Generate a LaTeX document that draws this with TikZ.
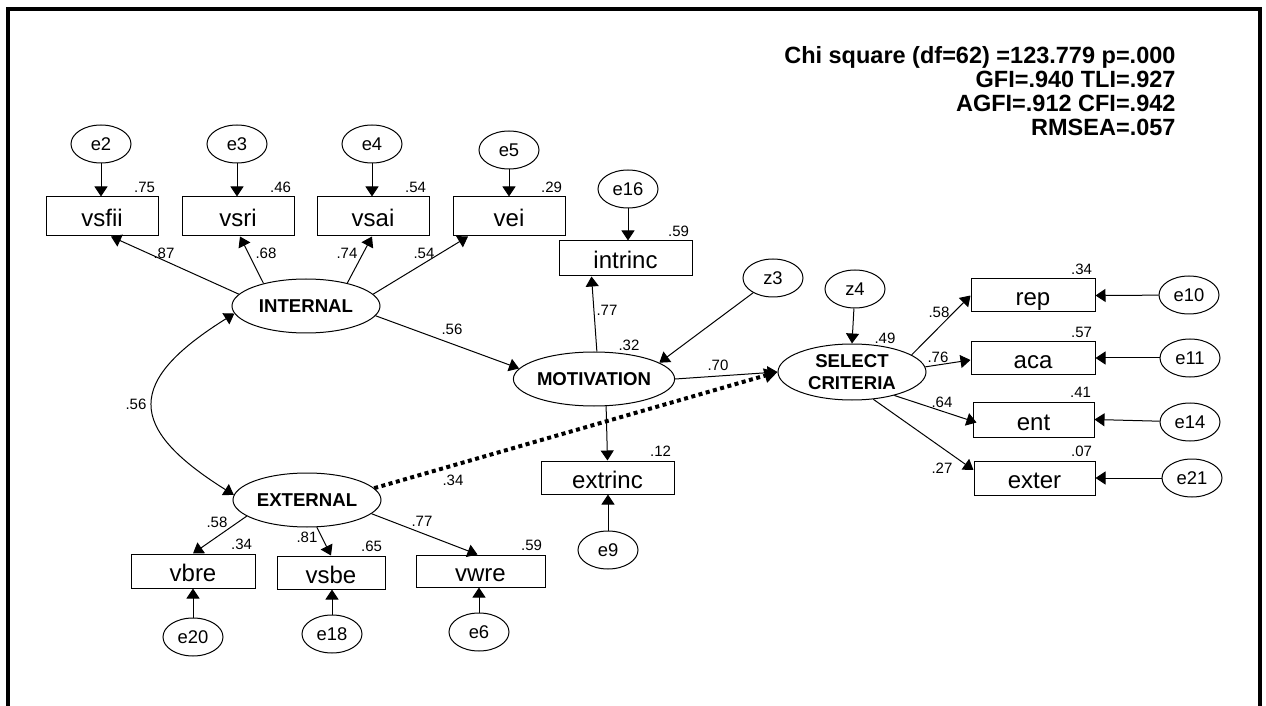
\documentclass[tikz,border=0pt]{standalone}
\usepackage{fontspec}
\setmainfont{Liberation Sans}
\usetikzlibrary{positioning, shapes.geometric, arrows.meta}
\tikzset{
	obsbox/.style={draw, rectangle, inner sep=0pt, minimum width=56pt, minimum height=19.5pt,
		text height=10.5pt, text depth=0pt, font=\fontsize{12}{14}\selectfont}
}
\tikzset{
	latent/.style={draw, ellipse, inner sep=0pt, minimum width=74pt, minimum height=27pt,
		align=center, font=\fontsize{9.3}{11}\selectfont\bfseries}
}
\tikzset{
	errnode/.style={draw, ellipse, inner sep=0pt, minimum width=30pt, minimum height=19pt,
		font=\fontsize{9.2}{11}\selectfont}
}
\tikzset{
	numtext/.style={inner sep=0pt, font=\fontsize{7.5}{9}\selectfont},
	fittext/.style={inner sep=0pt, font=\fontsize{11.75}{12}\selectfont\bfseries},
	arr/.style={-{Triangle[length=5pt,width=6.5pt]}},
	covarr/.style={{Triangle[length=5pt,width=6.5pt]}-{Triangle[length=5pt,width=6.5pt]}},
	dotarr/.style={line width=2pt, dash pattern=on 2pt off 1.75pt, -{Triangle[length=6.5pt,width=7pt]}}
}

\begin{document}
\begin{tikzpicture}[x=0.5pt, y=-0.5pt, line width=0.5pt]
      \useasboundingbox (0,0) rectangle (1266,706);
      % open frame round the model
      \draw[line width=2pt] (8,706) -- (8,9) -- (1260,9) -- (1260,706);
      \node[fittext, anchor=north east, align=right] (fitidx) at (1176,46)
        {Chi square (df=62) =123.779 p=.000\\GFI=.940 TLI=.927\\AGFI=.912 CFI=.942\\RMSEA=.057};

      % latent variables
      \node[latent] (INT) at (306,306) {INTERNAL};
      \node[latent] (EXT) at (307,500) {EXTERNAL};
      \node[latent, minimum width=75pt] (MOT) at (594,379) {MOTIVATION};
      \node[latent, minimum height=28pt] (SEL) at (852,372) {SELECT\\CRITERIA};

      % indicators of INTERNAL
      \node[obsbox] (vsfii) at (102,216.5) {vsfii};
      \node[obsbox] (vsri) at (238,216.5) {vsri};
      \node[obsbox] (vsai) at (373,216.5) {vsai};
      \node[obsbox] (vei) at (509,216.5) {vei};
      \node[errnode] (e2) at (101,144) {e2};
      \node[errnode] (e3) at (237,144) {e3};
      \node[errnode] (e4) at (372,144) {e4};
      \node[errnode] (e5) at (509,150) {e5};

      % indicators of EXTERNAL
      \node[obsbox, minimum width=62pt, minimum height=17pt] (vbre) at (193,571) {vbre};
      \node[obsbox, minimum width=54pt, minimum height=16.5pt] (vsbe) at (331,572.5) {vsbe};
      \node[obsbox, minimum width=64.5pt, minimum height=16pt] (vwre) at (480.5,571) {vwre};
      \node[errnode] (e20) at (193,637) {e20};
      \node[errnode] (e18) at (332,634) {e18};
      \node[errnode] (e6) at (479,632) {e6};

      % indicators of MOTIVATION
      \node[obsbox, minimum width=66.5pt, minimum height=17.5pt] (intrinc) at (625.5,258.5) {intrinc};
      \node[obsbox, minimum width=66.5pt, minimum height=16.5pt] (extrinc) at (607.5,477.5) {extrinc};
      \node[errnode] (e16) at (628,189) {e16};
      \node[errnode] (e9) at (608,550) {e9};
      \node[errnode] (z3) at (773,278) {z3};
      \node[errnode] (z4) at (855,289) {z4};

      % indicators of SELECT CRITERIA
      \node[obsbox, minimum width=62pt, minimum height=16.5pt] (rep) at (1033,295.5) {rep};
      \node[obsbox, minimum width=62pt, minimum height=16.5pt] (aca) at (1033,358) {aca};
      \node[obsbox, minimum width=60.5pt, minimum height=17.5pt] (ent) at (1033.5,419.5) {ent};
      \node[obsbox, minimum width=60.5pt, minimum height=17pt] (exter) at (1034.5,478) {exter};
      \node[errnode] (e10) at (1189,295) {e10};
      \node[errnode] (e11) at (1190,358) {e11};
      \node[errnode] (e14) at (1190,422) {e14};
      \node[errnode] (e21) at (1192,478) {e21};

      % paths
      \draw[arr] (e2) -- (e2 |- vsfii.north);
      \draw[arr] (e3) -- (e3 |- vsri.north);
      \draw[arr] (e4) -- (e4 |- vsai.north);
      \draw[arr] (e5) -- (e5 |- vei.north);
      \draw[arr] (INT.170) -- ([xshift=4.5pt]vsfii.south);
      \draw[arr] (INT.152) -- ([xshift=1pt]vsri.south);
      \draw[arr] (INT.29) -- ([xshift=-0.5pt]vsai.south);
      \draw[arr] (INT.10) -- ([xshift=-20.5pt]vei.south);
      \draw[covarr] (INT.186) .. controls (126.5,381) and (125.5,427) .. (EXT.176);
      \draw[arr] (INT.-8) -- (MOT.172);
      \draw[arr] (EXT.-165) -- (vbre.north);
      \draw[arr] (EXT.-70) -- (vsbe.north);
      \draw[arr] (EXT.-12) -- ([xshift=-1.5pt]vwre.north);
      \draw[arr] (e20) -- (e20 |- vbre.south);
      \draw[arr] (e18) -- (e18 |- vsbe.south);
      \draw[arr] (e6) -- (e6 |- vwre.south);
      \draw[arr] (MOT.84) -- ([xshift=-17pt]intrinc.south);
      \draw[arr] (MOT.-66) -- (extrinc.north);
      \draw[arr] (e16) -- (e16 |- intrinc.north);
      \draw[arr] (e9) -- (e9 |- extrinc.south);
      \draw[arr] (z3) -- (MOT.14);
      \draw[arr] (z4) -- (SEL.north);
      \draw[arr] (MOT.east) -- (SEL.west);
      \draw[dotarr] (EXT.10) -- (SEL.west);
      \draw[arr] (SEL.16) -- (rep.west);
      \draw[arr] (SEL.4) -- ([yshift=-1pt]aca.west);
      \draw[arr] (SEL.-29) -- ([xshift=2pt,yshift=-1.5pt]ent.west);
      \draw[arr] (SEL.-52) -- ([yshift=4pt]exter.west);
      \draw[arr] (e10) -- (rep.east);
      \draw[arr] (e11) -- (aca.east);
      \draw[arr] (e14) -- (ent.east);
      \draw[arr] (e21) -- (exter.east);

      % squared multiple correlations
      \node[numtext, above left=1.5pt and 1.5pt of vsfii.north east] (r2vsfii) {.75};
      \node[numtext, above left=1.5pt and 1.5pt of vsri.north east] (r2vsri) {.46};
      \node[numtext, above left=1.5pt and 1.5pt of vsai.north east] (r2vsai) {.54};
      \node[numtext, above left=1.5pt and 1.5pt of vei.north east] (r2vei) {.29};
      \node[numtext, above left=1.5pt and 1.5pt of intrinc.north east] (r2intrinc) {.59};
      \node[numtext, above left=1.5pt and 1.5pt of extrinc.north east] (r2extrinc) {.12};
      \node[numtext, above left=1.5pt and 1.5pt of vbre.north east] (r2vbre) {.34};
      \node[numtext, above left=1.5pt and 1.5pt of vsbe.north east] (r2vsbe) {.65};
      \node[numtext, above left=1.5pt and 1.5pt of vwre.north east] (r2vwre) {.59};
      \node[numtext, above left=1.5pt and 1.5pt of rep.north east] (r2rep) {.34};
      \node[numtext, above left=1.5pt and 1.5pt of aca.north east] (r2aca) {.57};
      \node[numtext, above left=1.5pt and 1.5pt of ent.north east] (r2ent) {.41};
      \node[numtext, above left=1.5pt and 1.5pt of exter.north east] (r2exter) {.07};
      \node[numtext] (r2MOT) at (629,345) {.32};
      \node[numtext] (r2SEL) at (885,338) {.49};

      % path coefficients
      \node[numtext] (bvsfii) at (164,253) {.87};
      \node[numtext] (bvsri) at (266,253) {.68};
      \node[numtext] (bvsai) at (347,253) {.74};
      \node[numtext] (bvei) at (424,253) {.54};
      \node[numtext] (bINTMOT) at (452,329) {.56};
      \node[numtext] (cINTEXT) at (136,404) {.56};
      \node[numtext] (bintrinc) at (607,310) {.77};
      \node[numtext] (bMOTSEL) at (718,365) {.70};
      \node[numtext] (bEXTSEL) at (453,480) {.34};
      \node[numtext] (bvbre) at (217,522) {.58};
      \node[numtext] (bvsbe) at (307,537) {.81};
      \node[numtext] (bvwre) at (422,521) {.77};
      \node[numtext] (brep) at (939,312) {.58};
      \node[numtext] (baca) at (938,357) {.76};
      \node[numtext] (bent) at (942,402) {.64};
      \node[numtext] (bexter) at (942,468) {.27};
    \end{tikzpicture}
\end{document}
